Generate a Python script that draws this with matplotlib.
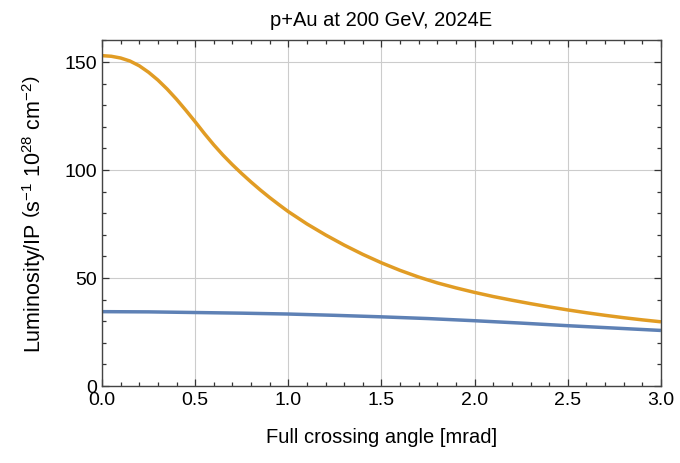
import numpy as np
import matplotlib
matplotlib.use("Agg")
import matplotlib.pyplot as plt
from matplotlib.ticker import MultipleLocator, FormatStrFormatter

plt.rcParams['font.family'] = ['Liberation Sans', 'DejaVu Sans']
plt.rcParams['mathtext.fontset'] = 'custom'
plt.rcParams['mathtext.rm'] = 'Liberation Sans'
plt.rcParams['mathtext.it'] = 'Liberation Sans:italic'

########## Data ##########
angle_orange = [0.0, 0.05, 0.1, 0.15, 0.2, 0.25, 0.3, 0.35, 0.4, 0.45, 0.5,
                0.55, 0.6, 0.65, 0.7, 0.75, 0.8, 0.85, 0.9, 0.95, 1.0,
                1.1, 1.2, 1.3, 1.4, 1.5,
                1.6, 1.7, 1.8, 1.9, 2.0, 2.1, 2.2, 2.3, 2.4, 2.5,
                2.6, 2.7, 2.8, 2.9, 3.0]
lumi_orange = [152.9, 152.6, 151.8, 150.4, 148.2, 145.2, 141.6, 137.4, 132.7, 127.6, 122.3,
               116.8, 111.6, 106.8, 102.4, 98.3, 94.4, 90.7, 87.2, 83.9, 80.7,
               75.0, 69.9, 65.2, 60.9, 57.0,
               53.5, 50.4, 47.7, 45.4, 43.3, 41.4, 39.7, 38.1, 36.6, 35.2,
               33.9, 32.7, 31.6, 30.6, 29.7]

angle_blue = [0.0, 0.25, 0.5, 0.75, 1.0, 1.25, 1.5, 1.75, 2.0, 2.25, 2.5, 2.75, 3.0]
lumi_blue = [34.4, 34.3, 34.0, 33.7, 33.3, 32.7, 32.0, 31.2, 30.2, 29.1, 27.9, 26.8, 25.7]

title = 'p+Au at 200 GeV, 2024E'
xlabel = 'Full crossing angle [mrad]'
ylabel = r'Luminosity/IP $\left(\mathregular{s^{-1}\ 10^{28}\ cm^{-2}}\right)$'

########## Plot ##########
fig = plt.figure(figsize=(6.8, 4.64), dpi=100)
ax = fig.add_axes([0.150, 0.166, 0.822, 0.745])

ax.plot(angle_blue, lumi_blue, color='#5E81B5', lw=2.5, solid_capstyle='butt')
ax.plot(angle_orange, lumi_orange, color='#E19C24', lw=2.5, solid_capstyle='butt')

ax.set_xlim(0, 3)
ax.set_ylim(0, 160)
ax.xaxis.set_major_locator(MultipleLocator(0.5))
ax.xaxis.set_minor_locator(MultipleLocator(0.1))
ax.yaxis.set_major_locator(MultipleLocator(50))
ax.yaxis.set_minor_locator(MultipleLocator(10))
ax.xaxis.set_major_formatter(FormatStrFormatter('%.1f'))

ax.grid(True, which='major', color='#cccccc', lw=0.8)
ax.set_axisbelow(True)

ax.tick_params(which='both', direction='in', top=True, right=True,
               labelsize=14, color='#333333', width=0.9)
ax.tick_params(which='major', length=5)
ax.tick_params(which='minor', length=2.8)
for s in ax.spines.values():
    s.set_color('#444444')
    s.set_linewidth(1.0)

ax.set_title(title, fontsize=14.5, pad=11)
ax.set_xlabel(xlabel, fontsize=14.5, labelpad=14)
ax.set_ylabel(ylabel, fontsize=15.5, labelpad=12)

plt.savefig('out.png', dpi=100)
